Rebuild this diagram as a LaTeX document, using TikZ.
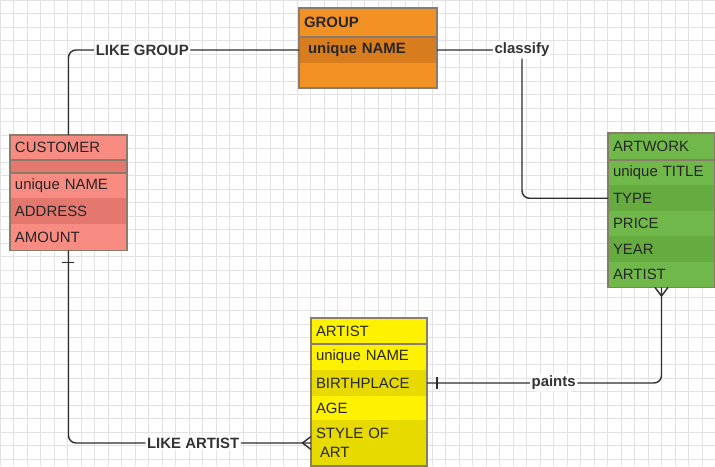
\documentclass[tikz,border=0pt]{standalone}
\usepackage{fontspec}
\setmainfont{Liberation Sans}
\usepackage{tikz}
\usetikzlibrary{positioning, decorations.markings}
\definecolor{erGrid}{HTML}{E2E2E2}
\definecolor{erOrange}{HTML}{F29224}
\definecolor{erOrangeDark}{HTML}{D87D1E}
\definecolor{erSalmon}{HTML}{F88C82}
\definecolor{erSalmonDark}{HTML}{E4786E}
\definecolor{erGreen}{HTML}{71B84A}
\definecolor{erGreenDark}{HTML}{65AB40}
\definecolor{erYellow}{HTML}{FFF200}
\definecolor{erYellowDark}{HTML}{E6DA00}
\definecolor{erEdge}{HTML}{8A7C6C}
\definecolor{erLine}{HTML}{2E2E2E}
\tikzset{
  ercell/.style={
    rectangle, inner xsep=0.1cm, inner ysep=0pt, outer sep=0pt,
    align=left, anchor=north west,
    font=\fontsize{8.5}{10.5}\selectfont, text=black!85
  },
  grpcell/.style={ercell, text width=2.56cm, fill=#1},
  grpcell/.default=erOrange,
  custcell/.style={ercell, text width=2.14cm, fill=#1},
  custcell/.default=erSalmon,
  awkcell/.style={ercell, text width=1.94cm, fill=#1},
  awkcell/.default=erGreen,
  astcell/.style={ercell, text width=2.12cm, fill=#1},
  astcell/.default=erYellow,
  erframe/.style={draw=erEdge, line width=0.6pt},
  erlink/.style={draw=erLine, line width=0.8pt, rounded corners=0.15cm},
  erlabel/.style={
    fill=white, inner sep=1pt,
    font=\bfseries\fontsize{8.5}{10}\selectfont, text=black!80
  },
  % crow's foot at the far end
  manyend/.style={
    postaction={decorate, decoration={markings,
      mark=at position 1 with {\draw[erLine, line width=0.8pt, rounded corners=0pt]
        (0,0.13cm) -- (-0.17cm,0) -- (0,-0.13cm);}}}
  },
  % single bar near the start
  onebar/.style={
    postaction={decorate, decoration={markings,
      mark=at position #1 with {\draw[erLine, line width=0.8pt] (0,-0.12cm) -- (0,0.12cm);}}}
  }
}
\begin{document}
\begin{tikzpicture}[x=0.02cm, y=-0.02cm]
  \useasboundingbox (0,0) rectangle (715,466);
  \fill[white] (0,0) rectangle (715,466);
  \draw[erGrid, line width=0.3pt, step=0.27cm] (0,0) grid (715,466);

  % GROUP
  \node[grpcell, minimum height=0.58cm, font=\bfseries\fontsize{8.5}{10.5}\selectfont] (grp) at (299,8) {GROUP};
  \node[grpcell=erOrangeDark, minimum height=0.52cm, font=\bfseries\fontsize{8.5}{10.5}\selectfont, below=0pt of grp] (grp-name) {\hspace{0.08cm}unique NAME};
  \node[grpcell, minimum height=0.5cm, below=0pt of grp-name] (grp-empty) {};
  \draw[erframe] (grp.north west) rectangle (grp-empty.south east);
  \draw[erframe] (grp.south west) -- (grp.south east);

  % CUSTOMER
  \node[custcell, minimum height=0.5cm] (cust) at (10,135) {CUSTOMER};
  \node[custcell=erSalmonDark, minimum height=0.26cm, below=0pt of cust] (cust-gap) {};
  \node[custcell, minimum height=0.51cm, below=0pt of cust-gap] (cust-name) {unique NAME};
  \node[custcell=erSalmonDark, minimum height=0.52cm, below=0pt of cust-name] (cust-addr) {ADDRESS};
  \node[custcell, minimum height=0.52cm, below=0pt of cust-addr] (cust-amount) {AMOUNT};
  \draw[erframe] (cust.north west) rectangle (cust-amount.south east);
  \draw[erframe] (cust.south west) -- (cust.south east);
  \draw[erframe] (cust-gap.south west) -- (cust-gap.south east);

  % ARTWORK
  \node[awkcell, minimum height=0.54cm] (awk) at (608,133) {ARTWORK};
  \node[awkcell, minimum height=0.51cm, below=0pt of awk] (awk-title) {unique TITLE};
  \node[awkcell=erGreenDark, minimum height=0.51cm, below=0pt of awk-title] (awk-type) {TYPE};
  \node[awkcell, minimum height=0.51cm, below=0pt of awk-type] (awk-price) {PRICE};
  \node[awkcell=erGreenDark, minimum height=0.51cm, below=0pt of awk-price] (awk-year) {YEAR};
  \node[awkcell, minimum height=0.51cm, below=0pt of awk-year] (awk-artist) {ARTIST};
  \draw[erframe] (awk.north west) rectangle (awk-artist.south east);
  \draw[erframe] (awk.south west) -- (awk.south east);

  % ARTIST
  \node[astcell, minimum height=0.52cm] (ast) at (311,318) {ARTIST};
  \node[astcell, minimum height=0.52cm, below=0pt of ast] (ast-name) {unique NAME};
  \node[astcell=erYellowDark, minimum height=0.52cm, below=0pt of ast-name] (ast-birth) {BIRTHPLACE};
  \node[astcell, minimum height=0.48cm, below=0pt of ast-birth] (ast-age) {AGE};
  \node[astcell=erYellowDark, minimum height=0.92cm, below=0pt of ast-age] (ast-style) {STYLE OF\\\hspace{0.08cm}ART};
  \draw[erframe] (ast.north west) rectangle (ast-style.south east);
  \draw[erframe, line width=1.2pt] (ast.south west) -- (ast.south east);

  % relationships
  \draw[erlink] (cust.north) |- node[erlabel, pos=0.66] {LIKE GROUP} (grp-name.west);
  \draw[erlink] (grp-name.east) -- ++(85,0) node[erlabel] {classify} |- (awk-type.west);
  \draw[erlink, manyend, onebar=0.2cm] (ast-birth.east) -| node[erlabel, pos=0.27] {paints} (awk-artist.south);
  \draw[erlink, manyend, onebar=0.24cm] (cust-amount.south) |- node[erlabel, pos=0.757] {LIKE ARTIST} (ast-style.west);
\end{tikzpicture}
\end{document}
